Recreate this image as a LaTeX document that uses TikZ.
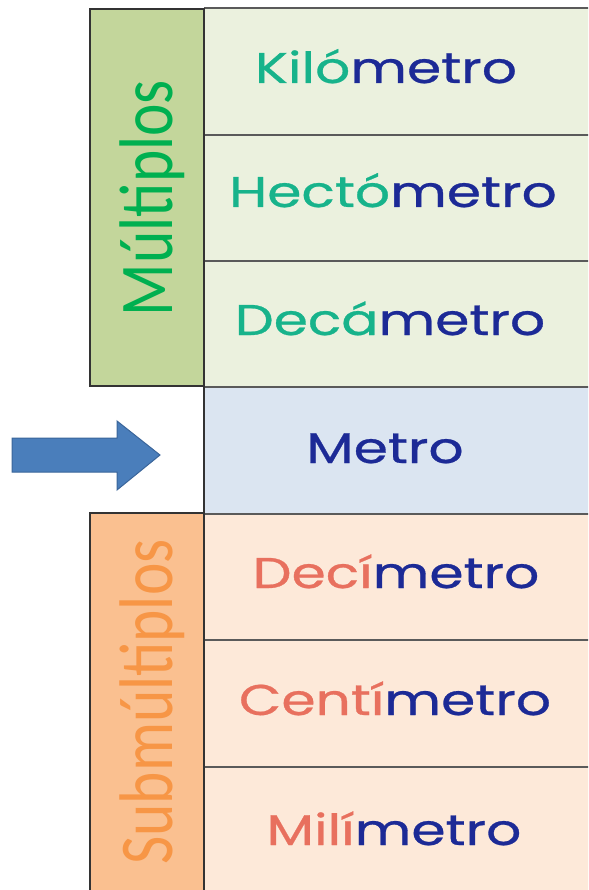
\documentclass[tikz,border=0pt]{standalone}
\usepackage{fontspec}
\setmainfont{Poppins}
\newfontfamily\rowfont[FakeBold=0.6]{Poppins}
\newfontfamily\sidefont{Carlito}
\definecolor{multab}{HTML}{C3D69B}
\definecolor{multxt}{HTML}{00B050}
\definecolor{subtab}{HTML}{FAC090}
\definecolor{subtxt}{HTML}{F79646}
\definecolor{toprow}{HTML}{EBF1DE}
\definecolor{midrow}{HTML}{DBE5F1}
\definecolor{botrow}{HTML}{FDE9D9}
\definecolor{topc}{HTML}{17B38B}
\definecolor{botc}{HTML}{E8705E}
\definecolor{metroc}{HTML}{1C2A96}
\definecolor{arrowf}{HTML}{4A7EBB}
\definecolor{arrowd}{HTML}{3A659A}
\definecolor{edge}{HTML}{333333}
\definecolor{sep}{HTML}{5A5A5A}
\newlength\rowW
\newlength\sideW
\tikzset{
  rowtxt/.style={font=\rowfont\fontsize{43}{50}\selectfont, inner sep=0pt, anchor=base},
  sidetxt/.style={font=\sidefont\fontsize{76}{90}\selectfont, inner sep=0pt, anchor=base, rotate=90},
  cellline/.style={draw=sep, line width=1.4pt},
  tabbox/.style={draw=edge, line width=1.4pt},
}
\newcommand\unitname[2]{\scalebox{\rsx}[1]{\textcolor{#2}{#1}\textcolor{metroc}{metro}}}
\begin{document}
\settowidth\rowW{\rowfont\fontsize{43}{50}\selectfont Kilómetro}%
\pgfmathsetmacro\rsx{262/\rowW}%
\settowidth\sideW{\sidefont\fontsize{76}{90}\selectfont Múltiplos}%
\pgfmathsetmacro\ssx{236/\sideW}%
\begin{tikzpicture}[x=1pt,y=-1pt]
\useasboundingbox (0,0) rectangle (588,890);
\clip (0,0) rectangle (588,890);
% fills
\fill[toprow] (204,8) rectangle (600,387);
\fill[midrow] (204,387) rectangle (600,514);
\fill[botrow] (204,514) rectangle (600,900);
\fill[multab] (90,9) rectangle (204,386);
\fill[subtab] (90,513) rectangle (204,900);
% cell separators
\foreach \y in {8,135,261,387,514,640,767}
  \draw[cellline] (204,\y) -- (600,\y);
\draw[tabbox] (90,9) rectangle (204,386);
\draw[tabbox] (90,513) rectangle (204,900);
\draw[tabbox] (204,8) -- (204,900);
% arrow
\fill[arrowf, draw=arrowd, line width=1pt]
  (12,438) -- (117,438) -- (117,421) -- (160,455) -- (117,490) -- (117,472) -- (12,472) -- cycle;
% side labels
\node[sidetxt, text=multxt] (mult) at (172,198) {\scalebox{\ssx}[1]{Múltiplos}};
\node[sidetxt, text=subtxt] (subm) at (172,702) {\scalebox{\ssx}[1]{Submúltiplos}};
% row labels
\node[rowtxt] (kilo)  at (386,83)  {\unitname{Kiló}{topc}};
\node[rowtxt] (hecto) at (393,207) {\unitname{Hectó}{topc}};
\node[rowtxt] (deca)  at (390,335) {\unitname{Decá}{topc}};
\node[rowtxt] (metro) at (385,463) {\scalebox{\rsx}[1]{\textcolor{metroc}{Metro}}};
\node[rowtxt] (deci)  at (396,588) {\unitname{Decí}{botc}};
\node[rowtxt] (centi) at (395,715) {\unitname{Centí}{botc}};
\node[rowtxt] (mili)  at (394,845) {\unitname{Milí}{botc}};
\end{tikzpicture}
\end{document}
